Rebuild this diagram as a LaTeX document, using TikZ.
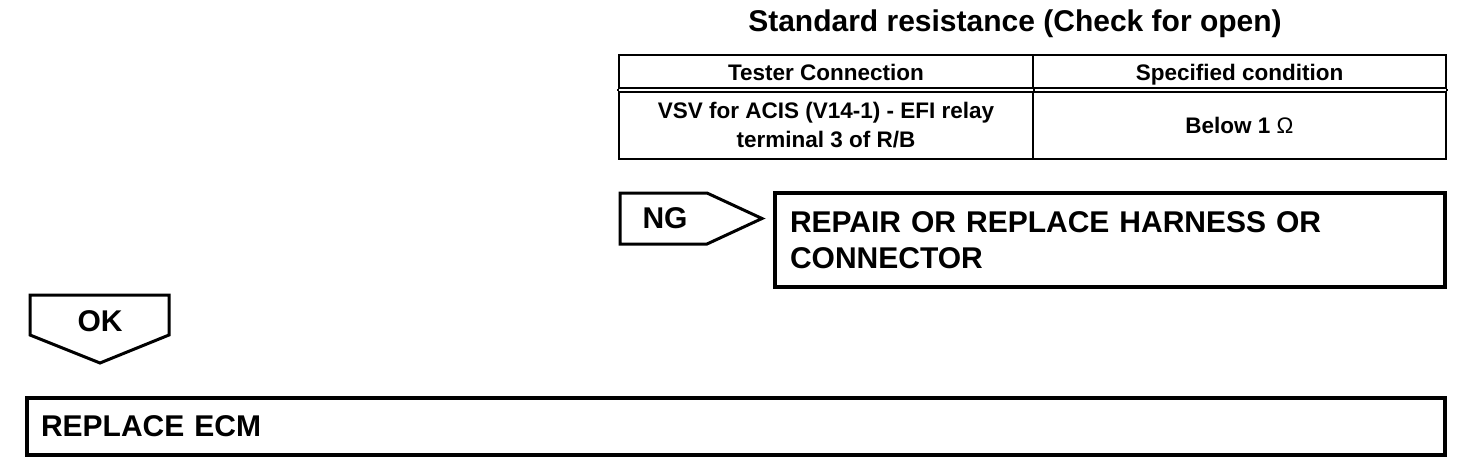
\documentclass[tikz,border=0pt]{standalone}
\usepackage{fontspec}
\setmainfont{Liberation Sans}
\usetikzlibrary{positioning}

\begin{document}
\begin{tikzpicture}[
    x=1pt, y=-1pt,
    box/.style={draw, line width=3.5pt, rectangle, inner sep=0pt, align=left,
                font=\fontsize{30}{36}\selectfont\bfseries},
    cell/.style={draw, line width=2pt, rectangle, inner sep=0pt, align=center,
                 font=\fontsize{22.5}{29}\selectfont\bfseries},
    headcell/.style={cell, minimum height=33pt, text height=20pt, text depth=3pt},
    tag/.style={draw, line width=3pt, line join=miter},
    bigtext/.style={font=\fontsize{30}{36}\selectfont\bfseries, inner sep=0pt}
]
\useasboundingbox (0,0) rectangle (1472,466);

\node[bigtext] (title) at (1015,24) {Standard resistance (Check for open)};

\node[headcell, minimum width=414pt] (hcon)  at (826,71.5)    {Tester Connection};
\node[headcell, minimum width=413pt] (hcond) at (1239.5,71.5) {Specified condition};
\node[cell, minimum width=414pt, minimum height=67pt] (bcon)  at (826,125.5)   {VSV for ACIS (V14-1) - EFI relay\\terminal 3 of R/B};
\node[cell, minimum width=413pt, minimum height=67pt] (bcond) at (1239.5,125.5) {Below 1 {\mdseries Ω}};
\draw[line width=2pt] (hcon.south west) -- (bcon.north west);
\draw[line width=2pt] (hcon.south east) -- (bcon.north east);
\draw[line width=2pt] (hcond.south east) -- (bcond.north east);

\draw[tag] (620,193) -- (707,193) -- (762,218.5) -- (707,244) -- (620,244) -- cycle;
\node[bigtext] (ng) at (665,218) {NG};

\node[box, minimum width=670pt, minimum height=94pt, text width=640pt] (repair) at (1110,240)
    {REPAIR OR REPLACE HARNESS OR\\CONNECTOR};

\draw[tag] (30,295) -- (169,295) -- (169,335) -- (100,363) -- (30,335) -- cycle;
\node[bigtext] (ok) at (100,321) {OK};

\node[box, minimum width=1418pt, minimum height=57pt, text width=1390pt] (ecm) at (736,426.5)
    {REPLACE ECM};

\end{tikzpicture}
\end{document}
